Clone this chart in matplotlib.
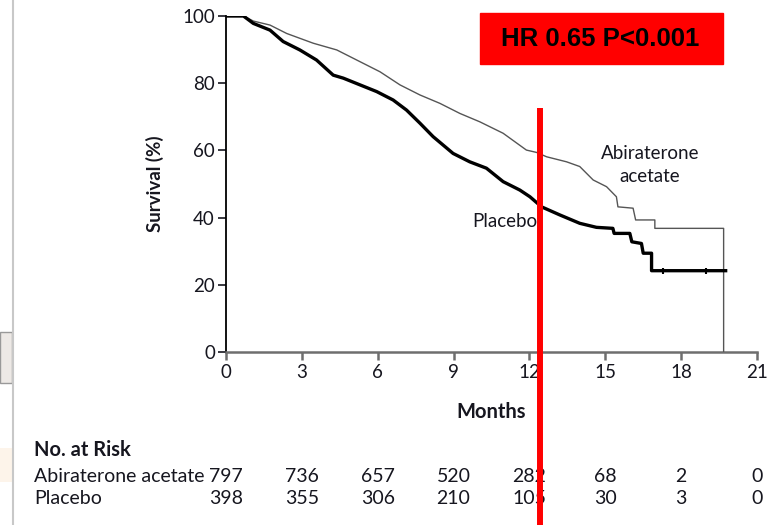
import numpy as np
import matplotlib
matplotlib.use('Agg')
import matplotlib.pyplot as plt
from matplotlib.lines import Line2D
from matplotlib.patches import Rectangle
import matplotlib.transforms as mtransforms

plt.rcParams['font.family'] = ['Lato', 'DejaVu Sans']

# Kaplan-Meier curves (months, survival %)
abi_months = [0, 0.7, 1.08, 1.74, 2.4, 3.45, 4.38, 5.3, 6.09, 6.88, 7.67, 8.46,
              9.25, 10.04, 10.96, 11.88, 12.28, 12.68, 13.47, 13.99, 14.52,
              15.05, 15.44, 15.5, 16.1, 16.2, 16.96, 16.96, 19.68, 19.68]
abi_surv = [100, 100, 98.5, 97.3, 94.8, 91.9, 89.9, 86.4, 83.4, 79.5, 76.5, 74,
            71, 68.5, 65.1, 60.1, 59.4, 58.1, 56.6, 55.2, 51.2,
            49.2, 46.2, 43.2, 42.8, 39.3, 39.3, 36.8, 36.8, 0]

pla_months = [0, 0.69, 1.08, 1.74, 2.26, 2.92, 3.58, 4.24, 4.64, 5.30, 5.96,
              6.61, 7.14, 7.67, 8.19, 8.98, 9.64, 10.3, 10.96, 11.62, 12.02,
              12.48, 13.2, 13.99, 14.65, 15.3, 15.35, 15.97, 16.05, 16.43,
              16.5, 16.83, 16.83, 19.76]
pla_surv = [100, 100, 97.8, 95.8, 92.4, 89.9, 86.9, 82.4, 81.5, 79.5, 77.5,
            75, 72, 68.1, 64.1, 59.1, 56.6, 54.7, 50.7, 48.2, 46.2,
            43.2, 40.8, 38.3, 37.1, 36.8, 35.3, 35.3, 32.8, 32.3,
            29.4, 29.4, 24.2, 24.2]
pla_censor = [17.28, 19.0]

# number at risk table
risk_months = [0, 3, 6, 9, 12, 15, 18, 21]
abi_risk = [797, 736, 657, 520, 282, 68, 2, 0]
pla_risk = [398, 355, 306, 210, 105, 30, 3, 0]

cut_month = 12.41
txt = '#16161f'
fs = 13.5
fs_tab = 14

fig = plt.figure(figsize=(7.78, 5.25), dpi=100)
ax = fig.add_axes([226 / 778, 1 - 352 / 525, 531 / 778, 336 / 525])

ax.plot(abi_months, abi_surv, color='#555555', lw=1.0, zorder=3)
ax.plot(pla_months, pla_surv, color='black', lw=2.4, zorder=4)
ax.plot(pla_censor, [pla_surv[-1]] * len(pla_censor), ls='none', marker='|',
        ms=4, mew=1.5, color='black', zorder=4)

ax.set_xlim(0, 21)
ax.set_ylim(0, 100)
ax.set_xticks(risk_months)
ax.set_yticks([0, 20, 40, 60, 80, 100])
for s in ['top', 'right']:
    ax.spines[s].set_visible(False)
ax.spines['left'].set_linewidth(1.3)
ax.spines['bottom'].set_linewidth(1.8)
ax.spines['bottom'].set_color('#6e6e6e')
ax.tick_params(axis='y', length=6, width=1.2, labelsize=fs, colors=txt, pad=2)
ax.tick_params(axis='x', length=6, width=1.8, labelsize=fs, colors=txt,
               color='#6e6e6e', pad=3)
ax.set_ylabel('Survival (%)', fontsize=13.5, fontweight='bold', color=txt,
              labelpad=13)
ax.set_xlabel('Months', fontsize=14.5, fontweight='bold', color=txt,
              labelpad=15)

ax.text(16.76, 59.1, 'Abiraterone', ha='center', va='center', fontsize=fs,
        color=txt)
ax.text(16.76, 52.2, 'acetate', ha='center', va='center', fontsize=fs,
        color=txt)
ax.text(11.03, 38.8, 'Placebo', ha='center', va='center', fontsize=fs,
        color=txt)

# risk table under the axes
tr = mtransforms.blended_transform_factory(ax.transData, fig.transFigure)
fig.text(34 / 778, 1 - 450 / 525, 'No. at Risk', fontsize=14.5,
         fontweight='bold', color=txt, va='center')
fig.text(34 / 778, 1 - 477 / 525, 'Abiraterone acetate', fontsize=fs_tab,
         color=txt, va='center')
fig.text(34 / 778, 1 - 498 / 525, 'Placebo', fontsize=fs_tab, color=txt,
         va='center')
for m, a, p in zip(risk_months, abi_risk, pla_risk):
    ax.text(m, 1 - 477 / 525, str(a), transform=tr, ha='center', va='center',
            fontsize=fs_tab, color=txt, clip_on=False)
    ax.text(m, 1 - 498 / 525, str(p), transform=tr, ha='center', va='center',
            fontsize=fs_tab, color=txt, clip_on=False)

# red cut line and HR box
fig.add_artist(Line2D([cut_month, cut_month], [0, 1 - 108 / 525], transform=tr,
                      color='red', lw=4.3, solid_capstyle='butt', zorder=10))
fig.add_artist(Rectangle((480 / 778, 1 - 64 / 525), 243 / 778, 51 / 525,
                         transform=fig.transFigure, color='red', zorder=10))
fig.text(600 / 778, 1 - 38.5 / 525, 'HR 0.65 P<0.001', ha='center',
         va='center', fontsize=18.5, fontweight='bold', color='black',
         family=['Liberation Sans', 'DejaVu Sans'], zorder=11)

# screenshot leftovers at the left edge
fig.add_artist(Line2D([12.5 / 778] * 2, [0, 1], transform=fig.transFigure,
                      color='#c8c8c8', lw=1.5))
fig.add_artist(Rectangle((0, 1 - 383 / 525), 12 / 778, 51 / 525,
                         transform=fig.transFigure, facecolor='#ede9e6',
                         edgecolor='#999999', lw=1))
fig.add_artist(Rectangle((0, 1 - 482 / 525), 12 / 778, 34 / 525,
                         transform=fig.transFigure, facecolor='#fdf4ea',
                         edgecolor='none'))

fig.savefig('out.png', dpi=100)
